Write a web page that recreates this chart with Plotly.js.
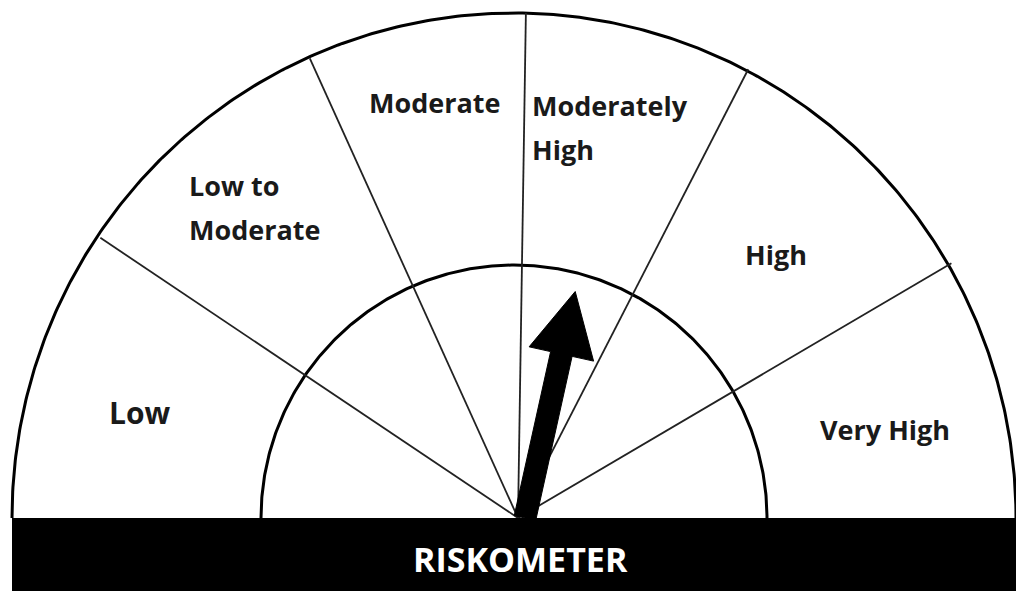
<!DOCTYPE html>
<html>
<head>
<meta charset="utf-8">
<script src="https://cdn.plot.ly/plotly-3.0.1.min.js"></script>
<style>html,body{margin:0;padding:0;background:#fff;}#chart{width:1016px;height:591px;}</style>
</head>
<body>
<div id="chart"></div>
<script>
// ---- data ----
var categories = ["Low", "Low to<br>Moderate", "Moderate", "Moderately<br>High", "High", "Very High"];
var boundaryAngles = [180, 146.3, 114.5, 89.1, 62.7, 30.3, 0]; // degrees, sector edges
var needleAngle = 77.5;                                         // degrees
var bannerText = "RISKOMETER";

// ---- layout constants ----
var W = 1016, H = 591;
var cx = 514, cy = 518;
var outerRx = 502, outerRy = 505;
var innerR = 253;
// [x, y of first line, anchor, font size]
var labelPos = [[140, 412, "center", 30], [187, 185, "left", 27], [434, 102, "center", 27], [530, 105, "left", 27], [776, 254, "center", 27], [885, 429, "center", 27]];
var lineGap = 44;
var pivot = [525, 518];
var needleLen = 232, shaftW = 22, headLen = 64, headW = 66;
var FONT = "'Open Sans', Lato, sans-serif";

function rad(d) { return d * Math.PI / 180; }
function arc(rx, ry) {
  var xs = [], ys = [];
  for (var i = 0; i <= 360; i++) {
    var a = rad(180 - i * 0.5);
    xs.push(cx + rx * Math.cos(a));
    ys.push(cy - ry * Math.sin(a));
  }
  return {x: xs, y: ys};
}

var traces = [];
var o = arc(outerRx, outerRy);
traces.push({type: "scatter", mode: "lines", x: o.x, y: o.y, line: {color: "#000", width: 3}, hoverinfo: "skip"});
var inn = arc(innerR, innerR);
traces.push({type: "scatter", mode: "lines", x: inn.x, y: inn.y, line: {color: "#000", width: 3}, hoverinfo: "skip"});

// dividers
var dx = [], dy = [];
for (var i = 1; i < boundaryAngles.length - 1; i++) {
  var a = rad(boundaryAngles[i]);
  dx.push(cx + 4, cx + 4 + outerRx * Math.cos(a), null);
  dy.push(cy, cy - outerRy * Math.sin(a), null);
}
traces.push({type: "scatter", mode: "lines", x: dx, y: dy, line: {color: "#222", width: 1.8}, hoverinfo: "skip"});

// needle polygon
(function () {
  var a = rad(needleAngle);
  var ux = Math.cos(a), uy = -Math.sin(a);
  var px = -uy, py = ux;
  var bx = pivot[0], by = pivot[1];
  var sl = needleLen - headLen;
  var pts = [
    [bx + px * shaftW / 2, by + py * shaftW / 2],
    [bx + ux * sl + px * shaftW / 2, by + uy * sl + py * shaftW / 2],
    [bx + ux * sl + px * headW / 2, by + uy * sl + py * headW / 2],
    [bx + ux * needleLen, by + uy * needleLen],
    [bx + ux * sl - px * headW / 2, by + uy * sl - py * headW / 2],
    [bx + ux * sl - px * shaftW / 2, by + uy * sl - py * shaftW / 2],
    [bx - px * shaftW / 2, by - py * shaftW / 2]
  ];
  traces.push({type: "scatter", mode: "lines", fill: "toself", fillcolor: "#000",
    x: pts.map(function (p) { return p[0]; }).concat([pts[0][0]]),
    y: pts.map(function (p) { return p[1]; }).concat([pts[0][1]]),
    line: {color: "#000", width: 1}, hoverinfo: "skip"});
})();

var annotations = [];
categories.forEach(function (c, i) {
  var p = labelPos[i];
  c.split("<br>").forEach(function (line, j) {
    annotations.push({x: p[0], y: p[1] + j * lineGap, xref: "x", yref: "y", text: "<b>" + line + "</b>", showarrow: false,
      xanchor: p[2], yanchor: "middle", align: p[2],
      font: {family: FONT, size: p[3], color: "#1a1a1a"}});
  });
});
annotations.push({x: 520, y: 559, xref: "x", yref: "y", text: "<b>" + bannerText + "</b>", showarrow: false,
  xanchor: "center", yanchor: "middle", font: {family: FONT, size: 34, color: "#fff"}});

var layout = {
  width: W, height: H, margin: {l: 0, r: 0, t: 0, b: 0},
  paper_bgcolor: "#fff", plot_bgcolor: "#fff", showlegend: false,
  xaxis: {range: [0, W], visible: false, fixedrange: true},
  yaxis: {range: [H, 0], visible: false, fixedrange: true},
  shapes: [{type: "rect", xref: "x", yref: "y", x0: 12, x1: W, y0: cy, y1: H, fillcolor: "#000", line: {width: 0}, layer: "above"}],
  annotations: annotations
};
Plotly.newPlot("chart", traces, layout, {staticPlot: true, displayModeBar: false});
</script>
</body>
</html>
